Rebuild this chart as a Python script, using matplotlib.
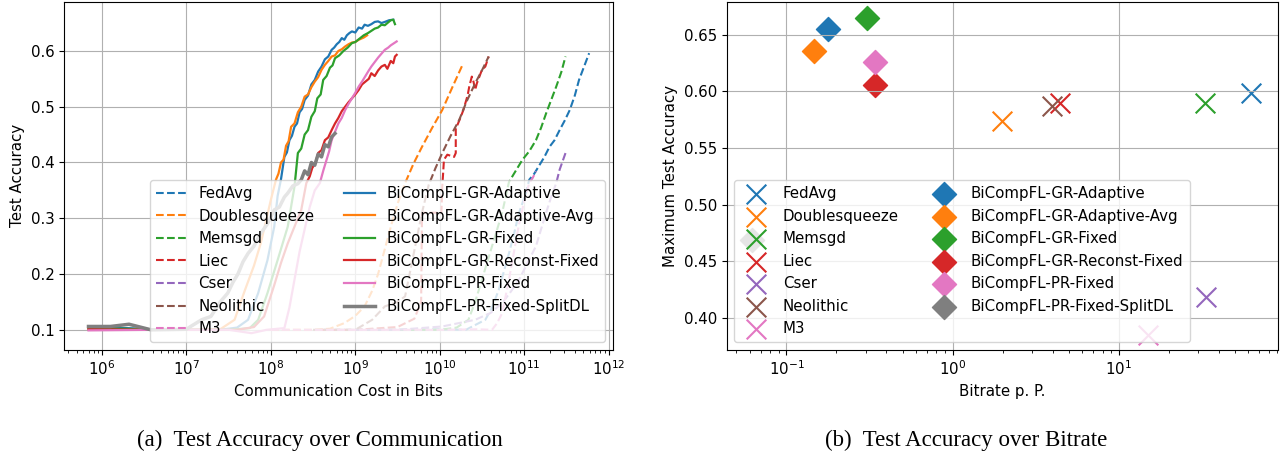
import numpy as np
import matplotlib
matplotlib.use("Agg")
import matplotlib.pyplot as plt

# -------------------------------
# Data (a): accuracy vs communication cost (x given as log10 of bits)
# -------------------------------

baseline_names = ["FedAvg", "Doublesqueeze", "Memsgd", "Liec", "Cser", "Neolithic", "M3"]
baseline_colors = ["tab:blue", "tab:orange", "tab:green", "tab:red", "tab:purple", "tab:brown", "tab:pink"]

fedavg_logx = [8.6, 9.5, 10.0, 10.31, 10.54, 10.62, 10.70, 10.76, 10.82, 10.88, 10.94, 11.02, 11.06, 11.12, 11.18, 11.24, 11.30, 11.36, 11.42, 11.48, 11.54, 11.60, 11.65, 11.71, 11.77]
fedavg_acc = [0.100, 0.100, 0.101, 0.100, 0.118, 0.140, 0.172, 0.205, 0.237, 0.272, 0.310, 0.345, 0.369, 0.380, 0.395, 0.410, 0.428, 0.440, 0.458, 0.475, 0.494, 0.520, 0.548, 0.572, 0.596]

dsq_logx = [8.0, 8.5, 8.7, 8.87, 9.0, 9.11, 9.20, 9.27, 9.35, 9.43, 9.51, 9.59, 9.69, 9.79, 9.91, 10.03, 10.15, 10.27]
dsq_acc = [0.100, 0.100, 0.102, 0.112, 0.125, 0.142, 0.170, 0.200, 0.245, 0.290, 0.330, 0.363, 0.398, 0.428, 0.462, 0.494, 0.535, 0.575]

memsgd_logx = [9.0, 9.6, 10.0, 10.2, 10.34, 10.42, 10.50, 10.56, 10.62, 10.68, 10.74, 10.82, 10.90, 10.98, 11.06, 11.14, 11.20, 11.26, 11.32, 11.38, 11.44, 11.49]
memsgd_acc = [0.100, 0.100, 0.100, 0.104, 0.118, 0.150, 0.190, 0.220, 0.250, 0.280, 0.310, 0.365, 0.385, 0.405, 0.420, 0.440, 0.462, 0.488, 0.512, 0.536, 0.562, 0.590]

liec_logx = [8.6, 9.0, 9.5, 9.70, 9.78, 9.79, 10.02, 10.03, 10.04, 10.05, 10.09, 10.17, 10.19, 10.19, 10.25, 10.28, 10.33, 10.35, 10.38, 10.40, 10.42, 10.44, 10.50, 10.54, 10.58]
liec_acc = [0.100, 0.100, 0.105, 0.120, 0.150, 0.310, 0.310, 0.357, 0.380, 0.405, 0.414, 0.410, 0.417, 0.460, 0.482, 0.494, 0.520, 0.536, 0.554, 0.545, 0.530, 0.542, 0.566, 0.572, 0.590]

cser_logx = [9.0, 9.5, 10.03, 10.42, 10.60, 10.74, 10.84, 10.94, 11.04, 11.14, 11.20, 11.26, 11.32, 11.38, 11.42, 11.49]
cser_acc = [0.100, 0.100, 0.106, 0.118, 0.130, 0.148, 0.168, 0.190, 0.220, 0.250, 0.280, 0.310, 0.338, 0.363, 0.387, 0.417]

neo_logx = [8.5, 9.0, 9.2, 9.35, 9.50, 9.59, 9.67, 9.73, 9.79, 9.87, 9.95, 10.03, 10.13, 10.23, 10.32, 10.42, 10.50, 10.58]
neo_acc = [0.100, 0.100, 0.118, 0.142, 0.150, 0.160, 0.220, 0.265, 0.310, 0.360, 0.390, 0.417, 0.448, 0.476, 0.510, 0.542, 0.565, 0.590]

m3_logx = [8.0, 9.0, 10.0, 10.45, 10.62, 10.68, 10.74, 10.78, 10.82, 10.88, 10.94, 11.00, 11.06, 11.10, 11.14]
m3_acc = [0.100, 0.100, 0.100, 0.101, 0.100, 0.112, 0.130, 0.160, 0.190, 0.240, 0.290, 0.330, 0.363, 0.372, 0.384]

baseline_logx = [fedavg_logx, dsq_logx, memsgd_logx, liec_logx, cser_logx, neo_logx, m3_logx]
baseline_acc = [fedavg_acc, dsq_acc, memsgd_acc, liec_acc, cser_acc, neo_acc, m3_acc]

bicomp_names = ["BiCompFL-GR-Adaptive", "BiCompFL-GR-Adaptive-Avg", "BiCompFL-GR-Fixed",
                "BiCompFL-GR-Reconst-Fixed", "BiCompFL-PR-Fixed", "BiCompFL-PR-Fixed-SplitDL"]
bicomp_colors = ["tab:blue", "tab:orange", "tab:green", "tab:red", "tab:pink", "tab:gray"]

gr_adapt_logx = [5.84, 6.3, 6.6, 7.0, 7.4, 7.6, 7.73, 7.85, 7.96, 8.04, 8.08, 8.12, 8.16, 8.19, 8.22, 8.25, 8.28, 8.31, 8.34, 8.37, 8.40, 8.44, 8.48, 8.52, 8.56, 8.60, 8.64, 8.68, 8.72, 8.75, 8.78, 8.81, 8.84, 8.87, 8.90, 8.93, 8.96, 9.00, 9.04, 9.08, 9.11, 9.15, 9.19, 9.23, 9.27, 9.31, 9.35, 9.40, 9.45]
gr_adapt_acc = [0.105, 0.103, 0.101, 0.100, 0.100, 0.104, 0.118, 0.166, 0.225, 0.285, 0.340, 0.370, 0.410, 0.418, 0.440, 0.448, 0.464, 0.470, 0.490, 0.496, 0.512, 0.520, 0.540, 0.548, 0.563, 0.572, 0.585, 0.590, 0.602, 0.606, 0.612, 0.616, 0.623, 0.620, 0.628, 0.632, 0.635, 0.633, 0.642, 0.640, 0.647, 0.645, 0.648, 0.652, 0.653, 0.650, 0.652, 0.655, 0.656]

gr_avg_logx = [5.84, 6.6, 7.0, 7.4, 7.57, 7.69, 7.80, 7.88, 8.0, 8.06, 8.09, 8.12, 8.15, 8.18, 8.21, 8.24, 8.28, 8.32, 8.36, 8.40, 8.44, 8.48, 8.52, 8.56, 8.60, 8.64, 8.68, 8.72, 8.76, 8.80, 8.84, 8.88, 8.92, 8.96, 9.00, 9.04, 9.07, 9.10, 9.14]
gr_avg_acc = [0.102, 0.100, 0.100, 0.101, 0.118, 0.170, 0.215, 0.255, 0.333, 0.369, 0.380, 0.400, 0.405, 0.430, 0.438, 0.464, 0.470, 0.490, 0.500, 0.518, 0.522, 0.535, 0.545, 0.553, 0.566, 0.575, 0.582, 0.590, 0.592, 0.600, 0.603, 0.608, 0.612, 0.615, 0.616, 0.620, 0.622, 0.624, 0.628]

gr_fixed_logx = [5.84, 6.6, 7.0, 7.5, 7.75, 7.85, 7.96, 8.08, 8.20, 8.28, 8.32, 8.36, 8.40, 8.44, 8.48, 8.52, 8.55, 8.59, 8.62, 8.66, 8.70, 8.73, 8.76, 8.81, 8.86, 8.91, 8.96, 9.00, 9.05, 9.10, 9.15, 9.19, 9.23, 9.27, 9.31, 9.35, 9.38, 9.42, 9.45, 9.47]
gr_fixed_acc = [0.103, 0.101, 0.100, 0.100, 0.103, 0.118, 0.166, 0.225, 0.285, 0.357, 0.417, 0.425, 0.450, 0.458, 0.482, 0.492, 0.515, 0.522, 0.548, 0.555, 0.570, 0.574, 0.587, 0.592, 0.600, 0.606, 0.614, 0.616, 0.622, 0.628, 0.632, 0.636, 0.640, 0.642, 0.647, 0.646, 0.650, 0.655, 0.656, 0.648]

gr_reconst_logx = [5.84, 6.6, 7.0, 7.6, 7.8, 7.92, 8.04, 8.12, 8.20, 8.28, 8.36, 8.42, 8.46, 8.49, 8.53, 8.56, 8.60, 8.64, 8.68, 8.72, 8.76, 8.80, 8.84, 8.88, 8.92, 8.96, 9.00, 9.04, 9.08, 9.12, 9.16, 9.19, 9.23, 9.27, 9.31, 9.35, 9.38, 9.42, 9.45, 9.47, 9.49]
gr_reconst_acc = [0.101, 0.100, 0.100, 0.100, 0.105, 0.124, 0.180, 0.220, 0.255, 0.285, 0.315, 0.363, 0.375, 0.390, 0.400, 0.417, 0.422, 0.440, 0.445, 0.458, 0.470, 0.480, 0.492, 0.500, 0.508, 0.515, 0.522, 0.530, 0.540, 0.545, 0.550, 0.560, 0.555, 0.565, 0.572, 0.575, 0.568, 0.582, 0.578, 0.590, 0.593]

pr_fixed_logx = [5.84, 6.6, 7.0, 7.5, 7.77, 7.95, 8.16, 8.22, 8.28, 8.34, 8.40, 8.46, 8.52, 8.58, 8.62, 8.65, 8.69, 8.72, 8.76, 8.80, 8.84, 8.88, 8.92, 8.96, 9.00, 9.04, 9.08, 9.12, 9.16, 9.19, 9.23, 9.27, 9.31, 9.35, 9.39, 9.42, 9.46, 9.49]
pr_fixed_acc = [0.099, 0.100, 0.100, 0.100, 0.094, 0.100, 0.103, 0.140, 0.190, 0.240, 0.280, 0.320, 0.350, 0.363, 0.385, 0.400, 0.420, 0.440, 0.455, 0.470, 0.480, 0.494, 0.505, 0.515, 0.525, 0.536, 0.545, 0.555, 0.565, 0.572, 0.580, 0.588, 0.595, 0.602, 0.606, 0.610, 0.614, 0.617]

pr_split_logx = [5.84, 6.1, 6.32, 6.58, 7.0, 7.05, 7.18, 7.29, 7.40, 7.49, 7.55, 7.61, 7.67, 7.73, 7.80, 7.88, 7.96, 8.04, 8.10, 8.16, 8.20, 8.26, 8.32, 8.36, 8.40, 8.44, 8.48, 8.52, 8.56, 8.60, 8.64, 8.68, 8.72, 8.76]
pr_split_acc = [0.106, 0.106, 0.110, 0.100, 0.101, 0.106, 0.118, 0.124, 0.150, 0.166, 0.185, 0.200, 0.222, 0.237, 0.250, 0.273, 0.290, 0.315, 0.320, 0.338, 0.345, 0.358, 0.362, 0.369, 0.385, 0.378, 0.400, 0.395, 0.415, 0.410, 0.432, 0.428, 0.446, 0.452]

bicomp_logx = [gr_adapt_logx, gr_avg_logx, gr_fixed_logx, gr_reconst_logx, pr_fixed_logx, pr_split_logx]
bicomp_acc = [gr_adapt_acc, gr_avg_acc, gr_fixed_acc, gr_reconst_acc, pr_fixed_acc, pr_split_acc]

# -------------------------------
# Data (b): maximum accuracy vs bitrate per parameter
# -------------------------------

baseline_bitrate = [62.5, 1.98, 33.0, 4.45, 33.5, 3.97, 15.0]
baseline_maxacc = [0.599, 0.574, 0.590, 0.590, 0.419, 0.587, 0.385]

bicomp_bitrate = [0.178, 0.146, 0.307, 0.34, 0.34, 0.0624]
bicomp_maxacc = [0.655, 0.636, 0.665, 0.606, 0.626, 0.469]

# -------------------------------
# Figure
# -------------------------------

plt.rcParams["font.family"] = ["DejaVu Sans"]
plt.rcParams["font.size"] = 10.85

fig = plt.figure(figsize=(12.82, 4.61), dpi=100)
ax1 = fig.add_axes([0.050, 0.241, 0.428, 0.755])
ax2 = fig.add_axes([0.567, 0.241, 0.430, 0.755])

for name, color, lx, acc in zip(baseline_names, baseline_colors, baseline_logx, baseline_acc):
    ax1.plot(10.0 ** np.array(lx), acc, linestyle="--", color=color, linewidth=1.5, label=name)
for name, color, lx, acc in zip(bicomp_names, bicomp_colors, bicomp_logx, bicomp_acc):
    lw = 2.5 if color == "tab:gray" else 1.6
    ax1.plot(10.0 ** np.array(lx), acc, linestyle="-", color=color, linewidth=lw, label=name)

ax1.set_xscale("log")
ax1.set_xlim(10 ** 5.551, 10 ** 12.05)
ax1.set_ylim(0.064, 0.688)
ax1.set_yticks([0.1, 0.2, 0.3, 0.4, 0.5, 0.6])
ax1.set_xlabel("Communication Cost in Bits")
ax1.set_ylabel("Test Accuracy")
ax1.grid(True)
ax1.legend(loc="lower right", ncol=2)

for name, color, b, a in zip(baseline_names, baseline_colors, baseline_bitrate, baseline_maxacc):
    ax2.scatter(b, a, marker="x", s=200, color=color, label=name)
for name, color, b, a in zip(bicomp_names, bicomp_colors, bicomp_bitrate, bicomp_maxacc):
    ax2.scatter(b, a, marker="D", s=150, color=color, label=name)

ax2.set_xscale("log")
ax2.set_xlim(10 ** -1.358, 10 ** 1.959)
ax2.set_ylim(0.372, 0.679)
ax2.set_yticks([0.40, 0.45, 0.50, 0.55, 0.60, 0.65])
ax2.yaxis.set_major_formatter(matplotlib.ticker.FormatStrFormatter("%.2f"))
ax2.set_xlabel("Bitrate p. P.")
ax2.set_ylabel("Maximum Test Accuracy")
ax2.grid(True)
ax2.legend(loc="lower left", ncol=2)

cap_font = dict(family=["Liberation Serif", "DejaVu Serif"], fontsize=16.5, ha="center", va="center")
fig.text(0.2496, 0.045, "(a)  Test Accuracy over Communication", **cap_font)
fig.text(0.7535, 0.045, "(b)  Test Accuracy over Bitrate", **cap_font)

fig.savefig("out.png", dpi=100)
